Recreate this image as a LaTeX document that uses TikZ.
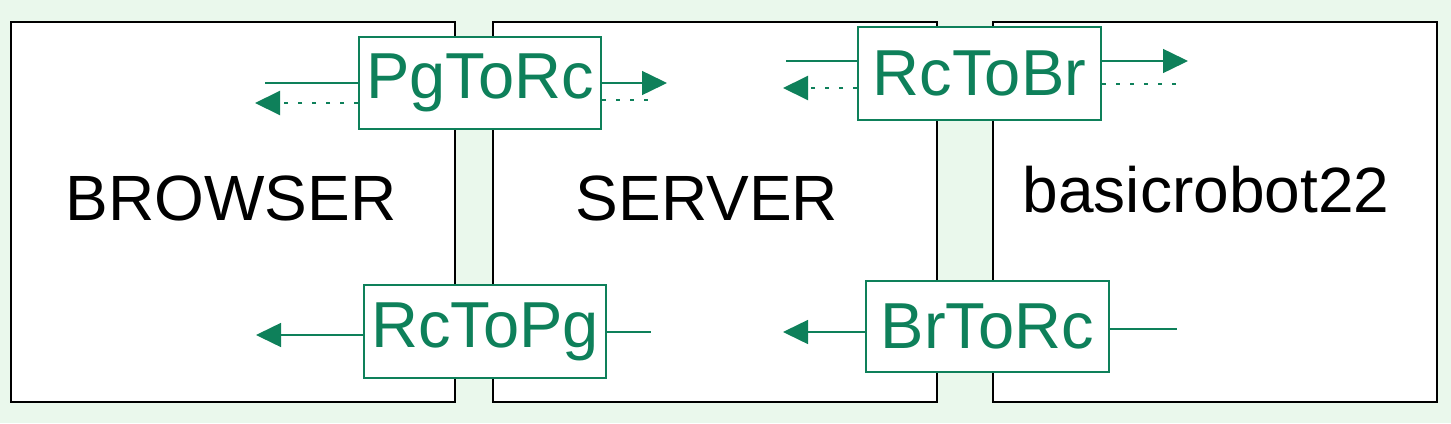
\documentclass[tikz,border=0pt]{standalone}
\usepackage{fontspec}
\setmainfont{Liberation Sans}
\usetikzlibrary{arrows.meta}
\definecolor{bg}{RGB}{234,248,236}
\definecolor{gr}{RGB}{14,128,90}
\begin{document}
\begin{tikzpicture}[x=1pt,y=-1pt,
 bigbox/.style={draw=black,line width=2pt,fill=white,minimum width=444pt,minimum height=380pt,inner sep=0pt},
 bigtext/.style={font=\fontsize{64}{70}\selectfont,inner sep=0pt},
 chan/.style={draw=gr,line width=2pt,fill=white,inner sep=0pt,text=gr,font=\fontsize{65}{70}\selectfont},
 wire/.style={draw=gr,line width=1.5pt},
 arr/.style={wire,-{Triangle[length=25pt,width=24pt]}},
 dots/.style={draw=gr,line width=2pt,dash pattern=on 4pt off 10pt}
]
\fill[bg] (0,0) rectangle (1451,423);
\useasboundingbox (0,0) rectangle (1451,423);
% big boxes
\node[bigbox] (browser) at (233,212) {};
\node[bigbox] (server) at (715,212) {};
\node[bigbox] (robot) at (1214.5,212) {};
\node[bigtext] (tb) at (231,198) {BROWSER};
\node[bigtext] (ts) at (707,198) {SERVER};
\node[bigtext] (tr) at (1206,190) {basicrobot22};
% channel boxes
\node[chan,minimum width=242pt,minimum height=92pt] (pg) at (480,83) {PgToRc};
\node[chan,minimum width=243pt,minimum height=93pt] (rb) at (979.5,73.5) {RcToBr};
\node[chan,minimum width=242pt,minimum height=93pt] (rp) at (485,331.5) {RcToPg};
\node[chan,minimum width=243pt,minimum height=91pt] (br) at (987.5,326.5) {BrToRc};
% free ends
\coordinate (pgL1) at (265,83);
\coordinate (pgR1) at (667,83);
\coordinate (pgL2) at (255,103);
\coordinate (pgR2) at (650,100);
\coordinate (rbL1) at (786,61);
\coordinate (rbR1) at (1188,61);
\coordinate (rbL2) at (783,88);
\coordinate (rbR2) at (1178,84);
\coordinate (rpL) at (256,335);
\coordinate (rpR) at (651,332);
\coordinate (brL) at (783,332);
\coordinate (brR) at (1177,329);
% connectors
\draw[wire] (pgL1) -- (pg.west |- pgL1);
\draw[arr] (pg.east |- pgR1) -- (pgR1);
\draw[dots,-{Triangle[length=25pt,width=24pt]}] (pg.west |- pgL2) -- (pgL2);
\draw[dots] (pg.east |- pgR2) -- (pgR2);
\draw[wire] (rbL1) -- (rb.west |- rbL1);
\draw[arr] (rb.east |- rbR1) -- (rbR1);
\draw[dots,-{Triangle[length=25pt,width=24pt]}] (rb.west |- rbL2) -- (rbL2);
\draw[dots] (rb.east |- rbR2) -- (rbR2);
\draw[arr] (rp.west |- rpL) -- (rpL);
\draw[wire] (rp.east |- rpR) -- (rpR);
\draw[arr] (br.west |- brL) -- (brL);
\draw[wire] (br.east |- brR) -- (brR);
\end{tikzpicture}
\end{document}
